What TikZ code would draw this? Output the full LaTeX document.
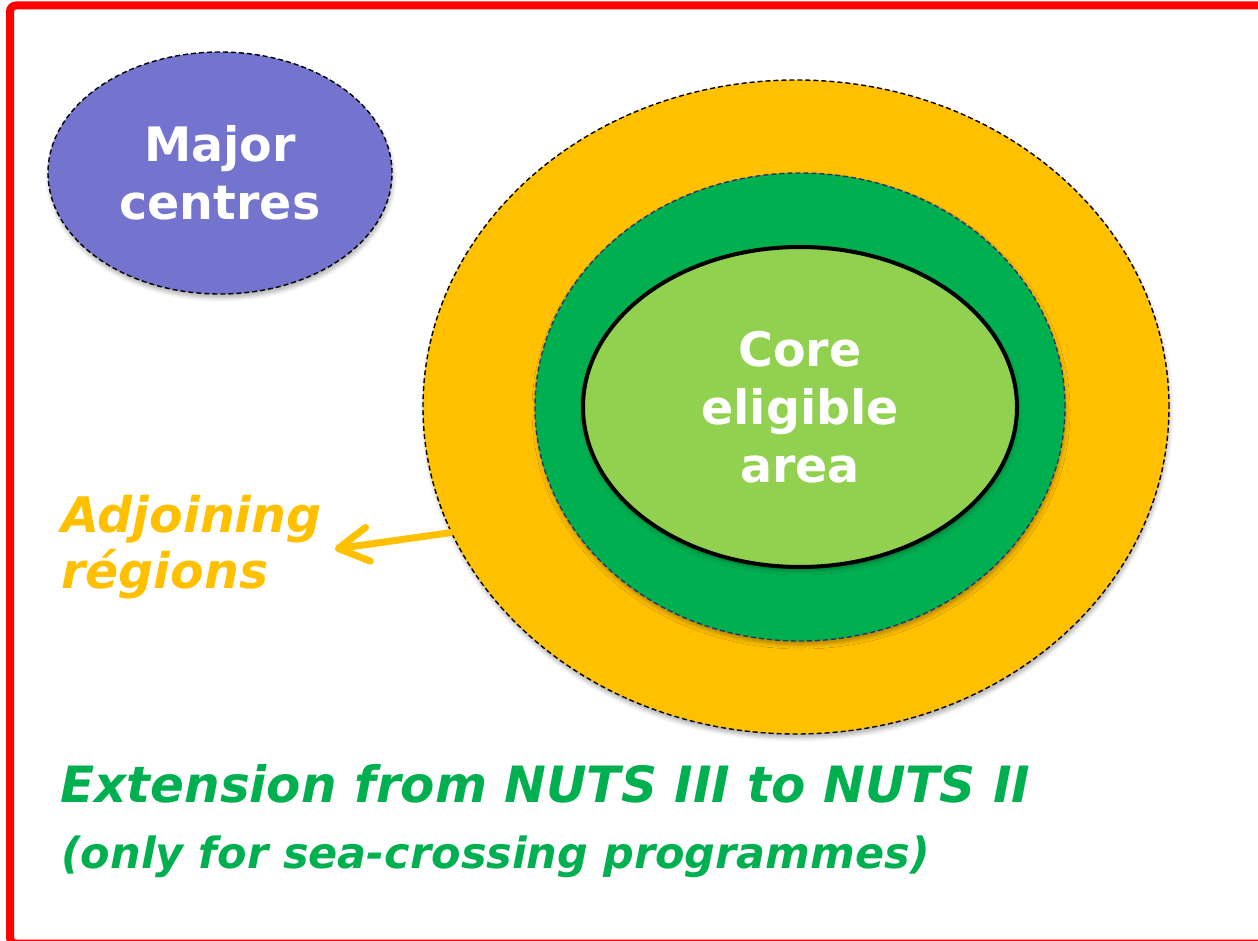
\documentclass[tikz,border=0pt]{standalone}
\usepackage{fontspec}
\setmainfont{DejaVu Sans}
\usepackage{tikz}
\usetikzlibrary{shapes.geometric, shadows.blur, arrows.meta}
\definecolor{frame}{RGB}{255, 0, 0}
\definecolor{major}{RGB}{116, 116, 207}
\definecolor{outer}{RGB}{255, 192, 0}
\definecolor{middle}{RGB}{0, 176, 80}
\definecolor{inner}{RGB}{146, 208, 80}
\definecolor{edge}{RGB}{40, 52, 110}

\begin{document}
\begin{tikzpicture}[x=1pt, y=-1pt,
  zone/.style={ellipse, inner sep=0pt,
    blur shadow={shadow xshift=1pt, shadow yshift=-4pt, shadow blur radius=4pt, shadow opacity=30}},
  dashedge/.style={draw=#1, line width=1.4pt, dash pattern=on 5pt off 3pt},
  title/.style={font=\fontsize{47.5}{58}\selectfont\bfseries, text=white, align=center},
  note/.style={font=\fontsize{#1}{56}\selectfont\bfseries\itshape, inner sep=0pt}]
  \useasboundingbox (0, 0) rectangle (1258, 941);

  % frame, open at the right
  \draw[frame, line width=8pt, rounded corners=6pt]
    (1258, 5.5) -- (10, 5.5) -- (10, 943.5) -- (1258, 943.5);

  \node[zone, fill=major, dashedge=black, minimum width=344pt, minimum height=242pt, title]
    (centres) at (220, 173) {Major\\centres};

  \node[zone, fill=outer, dashedge=black, minimum width=746pt, minimum height=654pt]
    (adjring) at (796, 407) {};
  \node[zone, fill=middle, dashedge=edge, minimum width=530pt, minimum height=468pt]
    (nutsring) at (800, 407) {};
  \node[zone, fill=inner, draw=black, line width=4pt, minimum width=434pt, minimum height=320pt, title]
    (core) at (800, 407) {Core\\eligible\\area};

  \node[note=49, text=outer, align=left, anchor=west] (adjoining) at (61, 547) {Adjoining\\régions};
  \draw[outer, line width=7pt, line cap=round,
    -{Straight Barb[length=30pt, width=34pt, line cap=round, line join=round]}]
    (adjring.200) -- ([xshift=13pt, yshift=-2pt]adjoining.east);

  \node[note=50, text=middle, anchor=base west] (extension) at (60, 802) {Extension from NUTS III to NUTS II};
  \node[note=43, text=middle, anchor=base west] (seacross) at (61, 868) {(only for sea-crossing programmes)};
\end{tikzpicture}
\end{document}
